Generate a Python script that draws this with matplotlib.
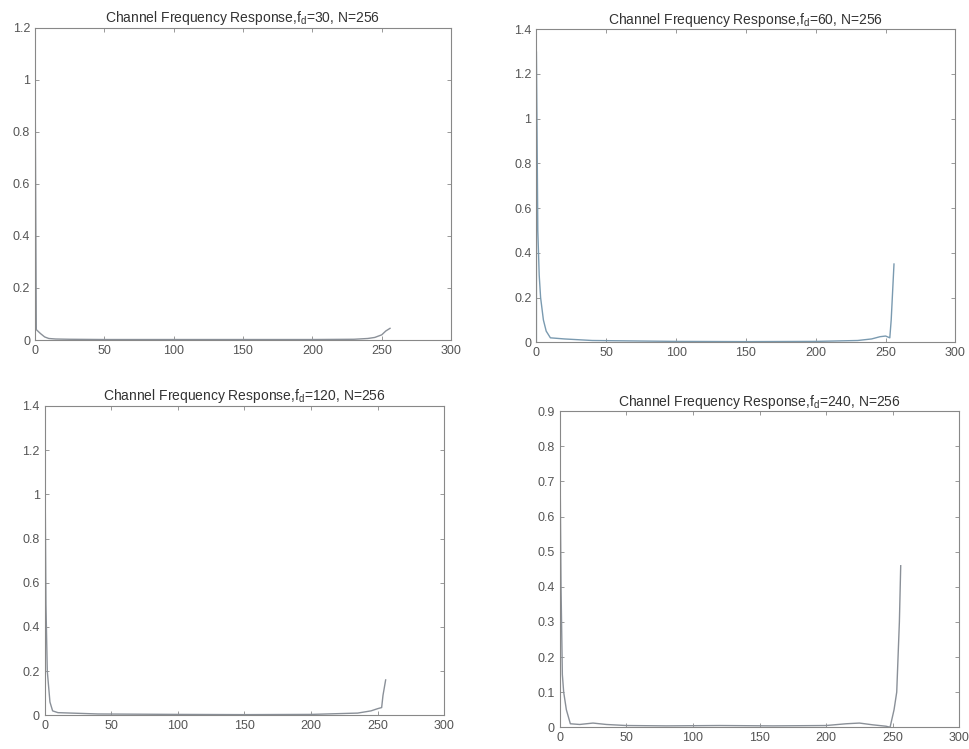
import matplotlib
matplotlib.use("Agg")
import matplotlib.pyplot as plt

plt.rcParams['font.family'] = ['Liberation Sans', 'DejaVu Sans']
plt.rcParams['mathtext.default'] = 'regular'

# sample index / magnitude pairs
x30 = [0, 0, 1, 2, 4, 7, 10, 15, 25, 50, 100, 150, 200, 230, 240, 245, 250, 253, 256]
y30 = [0.0, 1.15, 0.04, 0.035, 0.025, 0.012, 0.006, 0.004, 0.003, 0.002, 0.002, 0.002, 0.002, 0.003, 0.006, 0.01, 0.02, 0.035, 0.045]

x60 = [0, 0, 1, 2, 3, 5, 7, 10, 20, 40, 100, 150, 200, 230, 240, 246, 250, 253, 254, 256]
y60 = [0.0, 1.3, 0.5, 0.3, 0.2, 0.1, 0.05, 0.02, 0.015, 0.008, 0.004, 0.003, 0.004, 0.008, 0.015, 0.025, 0.028, 0.02, 0.1, 0.35]

x120 = [0, 0, 1, 2, 4, 6, 10, 20, 40, 100, 150, 200, 235, 245, 250, 253, 254, 256]
y120 = [0.0, 1.37, 0.5, 0.2, 0.06, 0.02, 0.012, 0.01, 0.006, 0.004, 0.003, 0.004, 0.01, 0.02, 0.03, 0.035, 0.09, 0.16]

x240 = [0, 0, 1, 2, 3, 5, 8, 15, 25, 35, 50, 80, 120, 160, 200, 215, 225, 235, 245, 248, 251, 253, 255, 256]
y240 = [0.0, 0.88, 0.4, 0.15, 0.1, 0.05, 0.01, 0.008, 0.012, 0.008, 0.005, 0.004, 0.005, 0.004, 0.005, 0.01, 0.012, 0.007, 0.003, 0.0, 0.05, 0.1, 0.3, 0.46]

titles = ['Channel Frequency Response,f$_d$=30, N=256',
          'Channel Frequency Response,f$_d$=60, N=256',
          'Channel Frequency Response,f$_d$=120, N=256',
          'Channel Frequency Response,f$_d$=240, N=256']
ylims = [1.2, 1.4, 1.4, 0.9]
ysteps = [0.2, 0.2, 0.2, 0.1]
positions = [[0.036, 0.546, 0.429, 0.417],
             [0.553, 0.543, 0.432, 0.418],
             [0.046, 0.045, 0.412, 0.413],
             [0.577, 0.029, 0.412, 0.422]]
colors = ['#8a9098', '#7a9ab0', '#8a9098', '#8a9098']
data = [(x30, y30), (x60, y60), (x120, y120), (x240, y240)]

fig = plt.figure(figsize=(9.7, 7.49), dpi=100)
grey = '#555555'
for i in range(4):
    ax = fig.add_axes(positions[i])
    ax.plot(data[i][0], data[i][1], color=colors[i], lw=1.0)
    ax.set_xlim(0, 300)
    ax.set_ylim(0, ylims[i])
    n = int(round(ylims[i] / ysteps[i]))
    yt = [round(k * ysteps[i], 2) for k in range(n + 1)]
    ax.set_yticks(yt)
    ax.set_yticklabels(['0' if v == 0 else ('1' if v == 1 else f'{v:g}') for v in yt])
    ax.set_xticks([0, 50, 100, 150, 200, 250, 300])
    ax.tick_params(direction='in', top=True, right=True, labelsize=9,
                   colors='#888888', labelcolor=grey, length=3, width=0.6)
    for s in ax.spines.values():
        s.set_color('#888888')
        s.set_linewidth(0.8)
    ax.set_title(titles[i], fontsize=10, color='#333333', pad=4)

fig.savefig('out.png', dpi=100)
